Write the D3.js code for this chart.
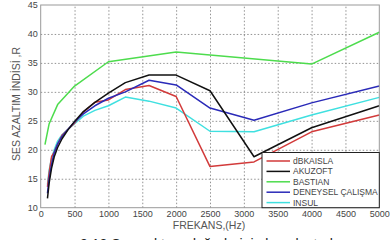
<!DOCTYPE html>
<html>
<head>
<meta charset="utf-8">
<script src="https://cdn.jsdelivr.net/npm/d3@7"></script>
<style>
  body { margin: 0; background: #fff; }
  svg { display: block; font-family: Arial, "Liberation Sans", sans-serif; }
</style>
</head>
<body>
<svg id="chart" width="390" height="240"></svg>
<script>
// third-octave frequencies (Hz)
const freqs = [100, 125, 160, 200, 250, 315, 400, 500, 630, 800, 1000, 1250, 1600, 2000, 2500, 3150, 4000, 5000];

const dBKAISLA = [13.6, 16, 18.8, 19.6, 21, 22.5, 23.5, 24.6, 26.5, 28.2, 28.6, 30.4, 31.1, 29.2, 17.1, 17.9, 23.1, 26.0];
const AKUZOFT  = [11.6, 14.3, 16.8, 18.8, 20.4, 21.9, 23.4, 24.9, 26.6, 28.2, 29.8, 31.6, 32.9, 32.9, 30.2, 18.8, 23.8, 27.6];
const DENEYSEL = [12.5, 15, 17.5, 19.5, 21, 22.3, 23.5, 24.8, 26.2, 27.6, 28.9, 30.0, 32.0, 31.2, 27.2, 25.1, 28.1, 31.0];
const INSUL    = [14.0, 16.5, 18.5, 20, 21.5, 22.6, 23.5, 24.5, 25.8, 26.8, 27.6, 29.1, 28.4, 27.2, 23.2, 23.1, 26.0, 29.05];

// BASTIAN is given in octave bands
const bastianFreqs = [63, 125, 250, 500, 1000, 2000, 4000, 5000];
const BASTIAN      = [20.9, 24.5, 27.8, 31.0, 35.2, 36.9, 34.8, 40.3];

const xTicks = [0, 500, 1000, 1500, 2000, 2500, 3000, 3500, 4000, 4500, 5000];
const yTicks = [10, 15, 20, 25, 30, 35, 40, 45];

const seriesNames = ["dBKAISLA", "AKUZOFT", "BASTIAN", "DENEYSEL ÇALIŞMA", "INSUL"];
const seriesColors = ["#d23a3a", "#111111", "#4ddc4d", "#2a2ab8", "#3fe0e0"];

const svg = d3.select("#chart");
const plot = { left: 40.7, right: 379.3, top: 5, bottom: 207.7 };

const x = d3.scaleLinear().domain([0, 5000]).range([plot.left, plot.right]);
const y = d3.scaleLinear().domain([10, 45]).range([plot.bottom, plot.top]);

// grid
svg.append("g")
    .attr("transform", `translate(0, ${plot.bottom})`)
    .call(d3.axisBottom(x).tickValues(xTicks.slice(1, -1)).tickSize(-(plot.bottom - plot.top)).tickFormat(""))
    .call(g => g.select(".domain").remove())
    .selectAll("line")
    .attr("stroke", "#777")
    .attr("stroke-width", 0.8)
    .attr("stroke-dasharray", "1.5,2");

svg.append("g")
    .attr("transform", `translate(${plot.left}, 0)`)
    .call(d3.axisLeft(y).tickValues(yTicks.slice(1, -1)).tickSize(-(plot.right - plot.left)).tickFormat(""))
    .call(g => g.select(".domain").remove())
    .selectAll("line")
    .attr("stroke", "#777")
    .attr("stroke-width", 0.8)
    .attr("stroke-dasharray", "1.5,2");

// tick labels
const xAxis = svg.append("g")
    .attr("transform", `translate(0, ${plot.bottom})`)
    .call(d3.axisBottom(x).tickValues(xTicks).tickFormat(d3.format("d")).tickSize(0).tickPadding(3));
xAxis.select(".domain").remove();
xAxis.selectAll("text").attr("fill", "#444").style("font-size", "9px");

const yAxis = svg.append("g")
    .attr("transform", `translate(${plot.left}, 0)`)
    .call(d3.axisLeft(y).tickValues(yTicks).tickFormat(d3.format("d")).tickSize(0).tickPadding(3));
yAxis.select(".domain").remove();
yAxis.selectAll("text").attr("fill", "#444").style("font-size", "9px");

// lines
const line = d3.line().x(d => x(d[0])).y(d => y(d[1]));
const seriesData = [
    d3.zip(freqs, dBKAISLA),
    d3.zip(freqs, AKUZOFT),
    d3.zip(bastianFreqs, BASTIAN),
    d3.zip(freqs, DENEYSEL),
    d3.zip(freqs, INSUL)
];
// draw order: back to front
const order = [2, 4, 0, 3, 1];
order.forEach(i => {
    svg.append("path")
        .datum(seriesData[i])
        .attr("d", line)
        .attr("fill", "none")
        .attr("stroke", seriesColors[i])
        .attr("stroke-width", 1.5)
        .attr("stroke-linejoin", "round");
});

// plot frame
svg.append("rect")
    .attr("x", plot.left).attr("y", plot.top)
    .attr("width", plot.right - plot.left).attr("height", plot.bottom - plot.top)
    .attr("fill", "none").attr("stroke", "#999").attr("stroke-width", 1);

// legend
const legend = svg.append("g").attr("transform", "translate(262, 152.5)");
legend.append("rect")
    .attr("width", plot.right - 262).attr("height", plot.bottom - 152.5)
    .attr("fill", "#fff").attr("stroke", "#222").attr("stroke-width", 1);
seriesNames.forEach((name, i) => {
    const ly = 8.5 + i * 10.4;
    legend.append("line")
        .attr("x1", 4.5).attr("x2", 28).attr("y1", ly).attr("y2", ly)
        .attr("stroke", seriesColors[i]).attr("stroke-width", 1.5);
    legend.append("text")
        .attr("x", 31).attr("y", ly + 3)
        .attr("fill", "#444").style("font-size", "8.5px")
        .text(name);
});

// axis titles
svg.append("text")
    .attr("x", 209).attr("y", 229)
    .attr("text-anchor", "middle")
    .attr("fill", "#555").style("font-size", "10.5px")
    .text("FREKANS,(Hz)");

svg.append("text")
    .attr("transform", "translate(20, 104) rotate(-90)")
    .attr("text-anchor", "middle")
    .attr("fill", "#555").style("font-size", "10.5px")
    .text("SES AZALTIM İNDİSİ ,R");

// caption (cut off by the bottom edge, as in the source image)
svg.append("text")
    .attr("x", 80).attr("y", 249)
    .attr("fill", "#222").style("font-size", "14px")
    .text("3.12 Ses yalıtımı değerlerinin karşılaştırılması");
</script>
</body>
</html>
